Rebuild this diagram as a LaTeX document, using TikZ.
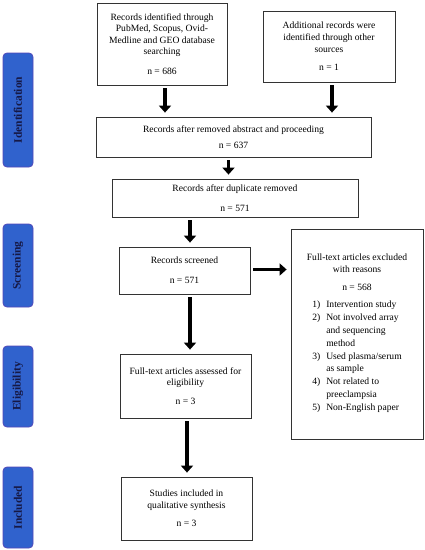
\documentclass[tikz,border=0pt]{standalone}
\usepackage{fontspec}
\setmainfont{Liberation Serif}
\usepackage{tikz}
\usetikzlibrary{arrows.meta}
\usepackage{xcolor}

\definecolor{stagefill}{RGB}{48,98,205}
\definecolor{stageedge}{RGB}{82,72,185}
\definecolor{stagetext}{RGB}{22,24,68}

\begin{document}
\begin{tikzpicture}[
    x=1pt, y=-1pt,
    every node/.style={font=\fontsize{9.6}{11.6}\selectfont},
    box/.style={draw=black!80, line width=0.8pt, align=center, inner sep=2pt},
    stage/.style={draw=stageedge, line width=0.8pt, fill=stagefill, rounded corners=4pt,
                  minimum width=30pt, minimum height=#1, inner sep=0pt, text=stagetext,
                  font=\fontsize{11.5}{13}\selectfont\bfseries},
    arrow/.style={line width=3.5pt, -{Triangle[width=12pt,length=7pt]},
                  shorten <=3pt, shorten >=4pt}
]
    \useasboundingbox (0,0) rectangle (425,550);

    % stage labels on the left
    \node[stage=114pt] (ident) at (18,110) {\rotatebox{90}{Identification}};
    \node[stage=83pt] (screen) at (18,265.5) {\rotatebox{90}{Screening}};
    \node[stage=81pt] (elig) at (18,386.5) {\rotatebox{90}{Eligibility}};
    \node[stage=81pt] (incl) at (18,507.5) {\rotatebox{90}{Included}};

    % flow boxes
    \node[box, minimum width=130pt, minimum height=82pt] (db) at (162,44)
        {Records identified through\\PubMed, Scopus, Ovid-\\Medline and GEO database\\searching\\[8pt]n = 686};
    \node[box, minimum width=132pt, minimum height=71pt] (other) at (329,46.5)
        {Additional records were\\identified through other\\sources\\[7pt]n = 1};
    \node[box, minimum width=275pt, minimum height=40pt] (abstr) at (233.5,137)
        {Records after removed abstract and proceeding\\[5pt]n = 637};
    \node[box, minimum width=246pt, minimum height=38pt] (dupl) at (235,198)
        {Records after duplicate removed\\[8pt]n = 571};
    \node[box, minimum width=131pt, minimum height=47pt] (scr) at (184.5,270.5)
        {Records screened\\[8pt]n = 571};
    \node[box, minimum width=132pt, minimum height=210pt] (excl) at (357,334)
        {Full-text articles excluded\\with reasons\\[7pt]n = 568\\[7pt]
         \renewcommand{\arraystretch}{1.1}%
         \begin{tabular}{@{}r@{\hspace{6pt}}l@{}}
           1) & Intervention study\\
           2) & Not involved array\\
              & and sequencing\\
              & method\\
           3) & Used plasma/serum\\
              & as sample\\
           4) & Not related to\\
              & preeclampsia\\
           5) & Non-English paper
         \end{tabular}};
    \node[box, minimum width=131pt, minimum height=64pt] (full) at (185.5,386)
        {Full-text articles assessed for\\eligibility\\[7pt]n = 3};
    \node[box, minimum width=131pt, minimum height=63pt] (qual) at (186.5,508.5)
        {Studies included in\\qualitative synthesis\\[7pt]n = 3};

    % arrows
    \draw[arrow] ([xshift=3pt]db.south) -- ([xshift=3pt]db.south |- abstr.north);
    \draw[arrow] ([xshift=3pt]other.south) -- ([xshift=3pt]other.south |- abstr.north);
    \draw[arrow] ([xshift=-5pt]abstr.south) -- ([xshift=-5pt]abstr.south |- dupl.north);
    \draw[arrow] ([xshift=5.5pt]scr.north |- dupl.south) -- ([xshift=5.5pt]scr.north);
    \draw[arrow] ([yshift=1pt]scr.east) -- ([yshift=1pt]scr.east -| excl.west);
    \draw[arrow] ([xshift=5.5pt]scr.south) -- ([xshift=5.5pt]scr.south |- full.north);
    \draw[arrow] ([xshift=1.5pt]full.south) -- ([xshift=1.5pt]full.south |- qual.north);
\end{tikzpicture}
\end{document}
